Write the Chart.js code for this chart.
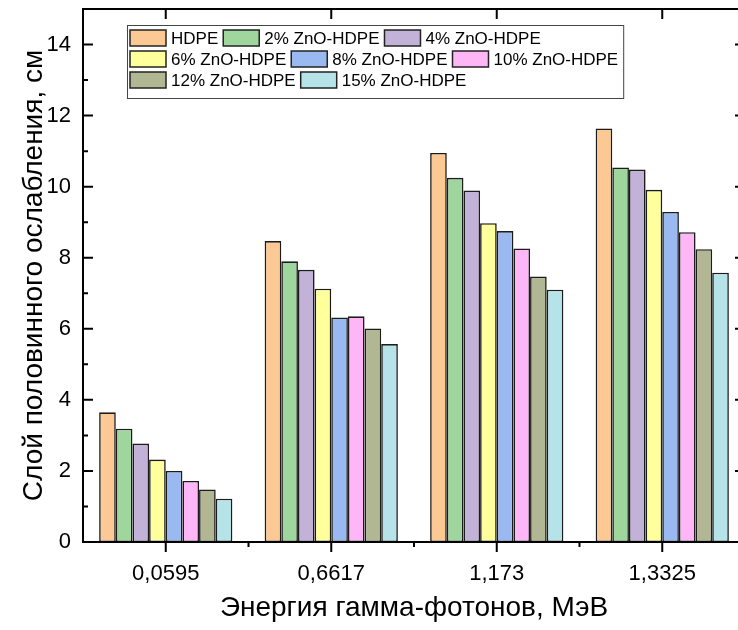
<!DOCTYPE html>
<html>
<head>
<meta charset="utf-8">
<script src="https://cdn.jsdelivr.net/npm/chart.js@4.4.1/dist/chart.umd.min.js"></script>
<style>
  html, body { margin: 0; padding: 0; background: #fff; overflow: hidden; }
  #wrap { width: 738px; height: 630px; overflow: hidden; }
</style>
</head>
<body>
<div id="wrap"><canvas id="hvl" width="760" height="630"></canvas></div>
<script>
// ---- data ----
const energies = ["0,0595", "0,6617", "1,173", "1,3325"];
const seriesNames = ["HDPE", "2% ZnO-HDPE", "4% ZnO-HDPE", "6% ZnO-HDPE",
  "8% ZnO-HDPE", "10% ZnO-HDPE", "12% ZnO-HDPE", "15% ZnO-HDPE"];
const seriesColors = ["#fcc995", "#9ed69e", "#c3b2d7", "#ffff9c",
  "#9ab9f0", "#feb6f6", "#b2b793", "#b5e3e7"];

const hdpe   = [3.65, 8.47, 10.95, 11.64];
const zno2   = [3.19, 7.90, 10.25, 10.54];
const zno4   = [2.77, 7.66, 9.89, 10.48];
const zno6   = [2.32, 7.13, 8.97, 9.91];
const zno8   = [2.00, 6.32, 8.75, 9.29];
const zno10  = [1.72, 6.35, 8.26, 8.72];
const zno12  = [1.48, 6.01, 7.47, 8.24];
const zno15  = [1.22, 5.57, 7.10, 7.58];
const values = [hdpe, zno2, zno4, zno6, zno8, zno10, zno12, zno15];

const yMajor = [0, 2, 4, 6, 8, 10, 12, 14];
const yMinor = [1, 3, 5, 7, 9, 11, 13];

const FONT = "'Liberation Sans', Arial, sans-serif";

// ---- frame, ticks and legend drawn on top ----
const framePlugin = {
  id: "frame",
  afterDatasetsDraw(chart) {
    const { ctx, chartArea: a, scales } = chart;
    const x = scales.x, y = scales.y;
    ctx.save();
    ctx.strokeStyle = "#000";
    ctx.lineWidth = 2;
    ctx.beginPath();
    ctx.rect(a.left, a.top, a.right - a.left, a.bottom - a.top);
    ctx.stroke();

    ctx.beginPath();
    // y: inward ticks on the left, major only on the right
    yMajor.forEach((v) => {
      const py = y.getPixelForValue(v);
      ctx.moveTo(a.left, py); ctx.lineTo(a.left + 10, py);
      ctx.moveTo(a.right, py); ctx.lineTo(a.right - 10, py);
    });
    yMinor.forEach((v) => {
      const py = y.getPixelForValue(v);
      ctx.moveTo(a.left, py); ctx.lineTo(a.left + 5, py);
    });
    // x: outward ticks at the bottom, inward at the top
    energies.forEach((_, i) => {
      const px = x.getPixelForValue(i);
      ctx.moveTo(px, a.bottom); ctx.lineTo(px, a.bottom + 10);
      ctx.moveTo(px, a.top); ctx.lineTo(px, a.top + 10);
      const bx = x.getPixelForValue(i + 0.5);
      if (i < energies.length - 1) {
        ctx.moveTo(bx, a.bottom); ctx.lineTo(bx, a.bottom + 5);
      }
    });
    ctx.stroke();

    // legend box
    ctx.font = "17px " + FONT;
    const rows = [[0, 1, 2], [3, 4, 5], [6, 7]];
    const boxX = 127, boxY = 25, sw = 36, sh = 16, gap = 5, rowH = 21;
    let maxRight = 0;
    const layout = rows.map((row, r) => {
      let cx = boxX + 3;
      return row.map((k) => {
        const item = { k, x: cx, y: boxY + 13 + r * rowH };
        cx += sw + gap + ctx.measureText(chart.data.datasets[k].label).width + gap;
        maxRight = Math.max(maxRight, cx);
        return item;
      });
    });
    ctx.fillStyle = "#fff";
    ctx.fillRect(boxX, boxY, maxRight - boxX, rowH * 3 + 10);
    ctx.lineWidth = 1;
    ctx.strokeStyle = "#444";
    ctx.strokeRect(boxX + 0.5, boxY + 0.5, maxRight - boxX, rowH * 3 + 10);
    ctx.textBaseline = "middle";
    layout.flat().forEach((it) => {
      const ds = chart.data.datasets[it.k];
      ctx.fillStyle = ds.backgroundColor;
      ctx.fillRect(it.x, it.y - sh / 2, sw, sh);
      ctx.lineWidth = 1.5;
      ctx.strokeStyle = "#222";
      ctx.strokeRect(it.x, it.y - sh / 2, sw, sh);
      ctx.fillStyle = "#000";
      ctx.fillText(ds.label, it.x + sw + gap, it.y + 1);
    });
    ctx.restore();
  }
};

new Chart(document.getElementById("hvl"), {
  type: "bar",
  data: {
    labels: energies,
    datasets: seriesNames.map((name, i) => ({
      label: name,
      data: values[i],
      backgroundColor: seriesColors[i],
      borderColor: "#1c1c1c",
      borderWidth: 1.6,
      borderSkipped: false,
      categoryPercentage: 0.805,
      barPercentage: 1.0
    }))
  },
  options: {
    responsive: false,
    animation: false,
    layout: { padding: { top: 9, right: 15, left: 0, bottom: 0 } },
    plugins: { legend: { display: false }, tooltip: { enabled: false } },
    scales: {
      x: {
        grid: { display: false, drawTicks: false },
        border: { display: false },
        ticks: { color: "#000", font: { family: FONT, size: 22 }, padding: 19, maxRotation: 0 },
        title: {
          display: true, text: "Энергия гамма-фотонов, МэВ", color: "#000",
          font: { family: FONT, size: 28 }, padding: { top: 0, bottom: 5 }
        },
        afterFit(scale) { scale.height = 88; scale.paddingLeft = 0; scale.paddingRight = 0; }
      },
      y: {
        min: 0, max: 15,
        grid: { display: false, drawTicks: false },
        border: { display: false },
        ticks: {
          stepSize: 2, includeBounds: false, color: "#000",
          font: { family: FONT, size: 22 }, padding: 12
        },
        title: {
          display: true, text: "Слой половинного ослабления, см", color: "#000",
          font: { family: FONT, size: 28 }, padding: { top: 17, bottom: 0 }
        },
        afterFit(scale) { scale.width = 83; scale.paddingTop = 0; scale.paddingBottom = 0; }
      }
    }
  },
  plugins: [framePlugin]
});
</script>
</body>
</html>
